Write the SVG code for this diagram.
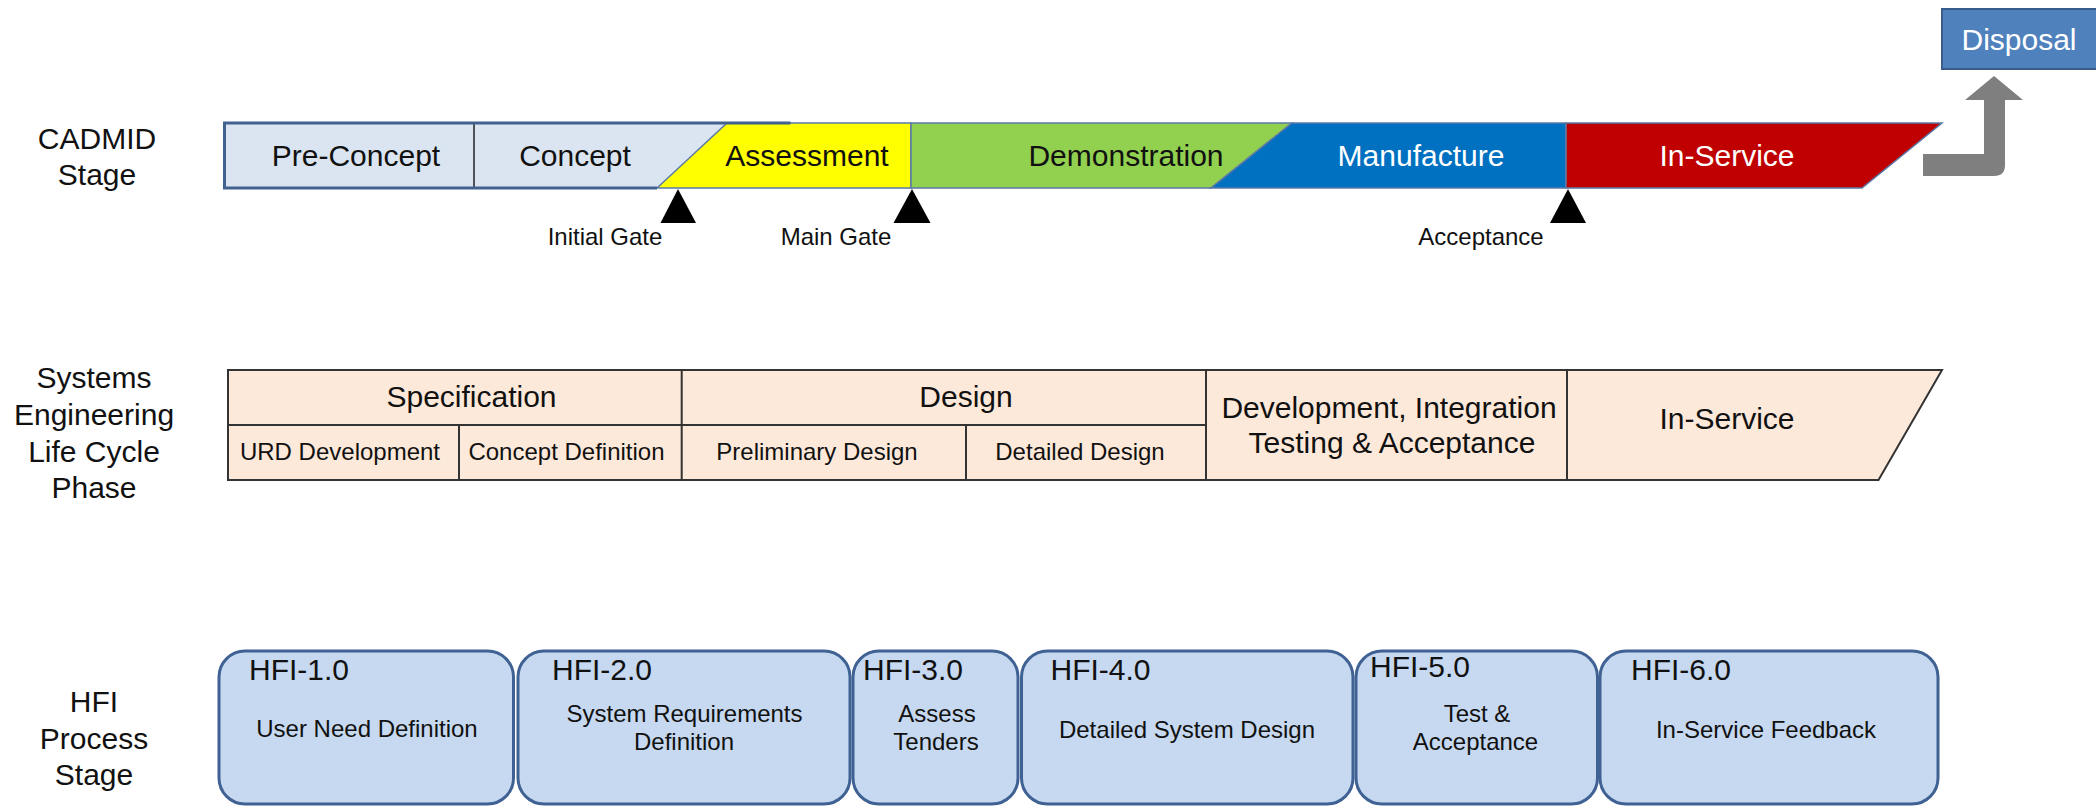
<svg xmlns="http://www.w3.org/2000/svg" width="2096" height="806" viewBox="0 0 2096 806">
  <style>
    text { font-family: "Liberation Sans", Arial, sans-serif; fill: #111; }
    .lbl { font-size: 30px; text-anchor: middle; }
    .big { font-size: 30px; text-anchor: middle; }
    .sm { font-size: 24px; text-anchor: middle; }
    .hid { font-size: 30px; text-anchor: start; }
    .wht { fill: #ffffff; }
    .seg { stroke: #5a79a8; stroke-width: 1.5; }
    .gate { fill: #000; }
    .cell { fill: #fde9d9; stroke: #333; stroke-width: 2; }
    .div { stroke: #333; stroke-width: 2; fill: none; }
    .hfi { fill: #c6d9f0; stroke: #3f6193; stroke-width: 3; }
  </style>

  <!-- Row labels -->
  <g id="row-labels">
    <text class="lbl" x="97" y="149">CADMID</text>
    <text class="lbl" x="97" y="185">Stage</text>
    <text class="lbl" x="94" y="388">Systems</text>
    <text class="lbl" x="94" y="425">Engineering</text>
    <text class="lbl" x="94" y="461.5">Life Cycle</text>
    <text class="lbl" x="94" y="498">Phase</text>
    <text class="lbl" x="94" y="712">HFI</text>
    <text class="lbl" x="94" y="748.5">Process</text>
    <text class="lbl" x="94" y="785">Stage</text>
  </g>

  <!-- CADMID stage bar -->
  <g id="cadmid">
    <rect x="224.5" y="123" width="566" height="65" fill="#dbe5f1"/>
    <line x1="474" y1="123" x2="474" y2="188" stroke="#222" stroke-width="1.5"/>
    <path class="seg" d="M657,188 L727,123 L911,123 L911,188 Z" fill="#ffff00"/>
    <path class="seg" d="M911,123 L1292,123 L1211,188 L911,188 Z" fill="#92d050"/>
    <path class="seg" d="M1292,123 L1566,123 L1566,188 L1211,188 Z" fill="#0070c0"/>
    <path class="seg" d="M1566,123 L1942,123 L1862,188 L1566,188 Z" fill="#c00000"/>
    <path d="M657,188 H224.5 V123 H790.5" fill="none" stroke="#41618f" stroke-width="3"/>
    <text class="big" x="356" y="166">Pre-Concept</text>
    <text class="big" x="575" y="166">Concept</text>
    <text class="big" x="807" y="166">Assessment</text>
    <text class="big" x="1126" y="166">Demonstration</text>
    <text class="big wht" x="1421" y="166">Manufacture</text>
    <text class="big wht" x="1727" y="166">In-Service</text>
  </g>

  <!-- Gates -->
  <g id="gate-initial">
    <polygon class="gate" points="678,189 660.5,223 696,223"/>
    <text class="sm" x="605" y="245">Initial Gate</text>
  </g>
  <g id="gate-main">
    <polygon class="gate" points="912,189 893.5,223 930.5,223"/>
    <text class="sm" x="836" y="245">Main Gate</text>
  </g>
  <g id="gate-acceptance">
    <polygon class="gate" points="1568,189 1550,223 1586,223"/>
    <text class="sm" x="1481" y="245">Acceptance</text>
  </g>

  <!-- Disposal -->
  <g id="disposal">
    <rect x="1942" y="9" width="160" height="60" fill="#4f81bd" stroke="#385d8a" stroke-width="2"/>
    <text class="big wht" x="2019" y="50">Disposal</text>
  </g>

  <!-- Connectors -->
  <g id="connectors">
    <path d="M1923,154 H1984 V100 H1965 L1994,76 L2023,100 H2005 V165 Q2005,176 1994,176 H1923 Z" fill="#7f7f7f"/>
  </g>

  <!-- Systems engineering life cycle phases -->
  <g id="se-phases">
    <path class="cell" d="M228,370 H1942 L1878.5,480 H228 Z"/>
    <path class="div" d="M228,425 H1206 M459,425 V480 M681.7,370 V480 M966,425 V480 M1206,370 V480 M1567,370 V480"/>
    <text class="big" x="471.5" y="407">Specification</text>
    <text class="big" x="966" y="407">Design</text>
    <text class="sm" x="340" y="460">URD Development</text>
    <text class="sm" x="566.5" y="460">Concept Definition</text>
    <text class="sm" x="817" y="460">Preliminary Design</text>
    <text class="sm" x="1080" y="460">Detailed Design</text>
    <text class="big" x="1389" y="418">Development, Integration</text>
    <text class="big" x="1392" y="453">Testing &amp; Acceptance</text>
    <text class="big" x="1727" y="429">In-Service</text>
  </g>

  <!-- HFI process stages -->
  <g id="hfi-1">
    <rect class="hfi" x="219" y="651" width="294.5" height="153" rx="26"/>
    <text class="hid" x="249" y="680">HFI-1.0</text>
    <text class="sm" x="367" y="737">User Need Definition</text>
  </g>
  <g id="hfi-2">
    <rect class="hfi" x="518" y="651" width="332" height="153" rx="26"/>
    <text class="hid" x="552" y="680">HFI-2.0</text>
    <text class="sm" x="684.5" y="722">System Requirements</text>
    <text class="sm" x="684" y="750">Definition</text>
  </g>
  <g id="hfi-3">
    <rect class="hfi" x="853" y="651" width="165" height="153" rx="26"/>
    <text class="hid" x="863" y="680">HFI-3.0</text>
    <text class="sm" x="937" y="722">Assess</text>
    <text class="sm" x="936" y="750">Tenders</text>
  </g>
  <g id="hfi-4">
    <rect class="hfi" x="1021.5" y="651" width="331.5" height="153" rx="26"/>
    <text class="hid" x="1050.5" y="680">HFI-4.0</text>
    <text class="sm" x="1187" y="738">Detailed System Design</text>
  </g>
  <g id="hfi-5">
    <rect class="hfi" x="1356" y="651" width="241.5" height="153" rx="26"/>
    <text class="hid" x="1370" y="677">HFI-5.0</text>
    <text class="sm" x="1477" y="722">Test &amp;</text>
    <text class="sm" x="1475.5" y="750">Acceptance</text>
  </g>
  <g id="hfi-6">
    <rect class="hfi" x="1600" y="651" width="338" height="153" rx="26"/>
    <text class="hid" x="1631" y="680">HFI-6.0</text>
    <text class="sm" x="1766" y="738">In-Service Feedback</text>
  </g>
</svg>
